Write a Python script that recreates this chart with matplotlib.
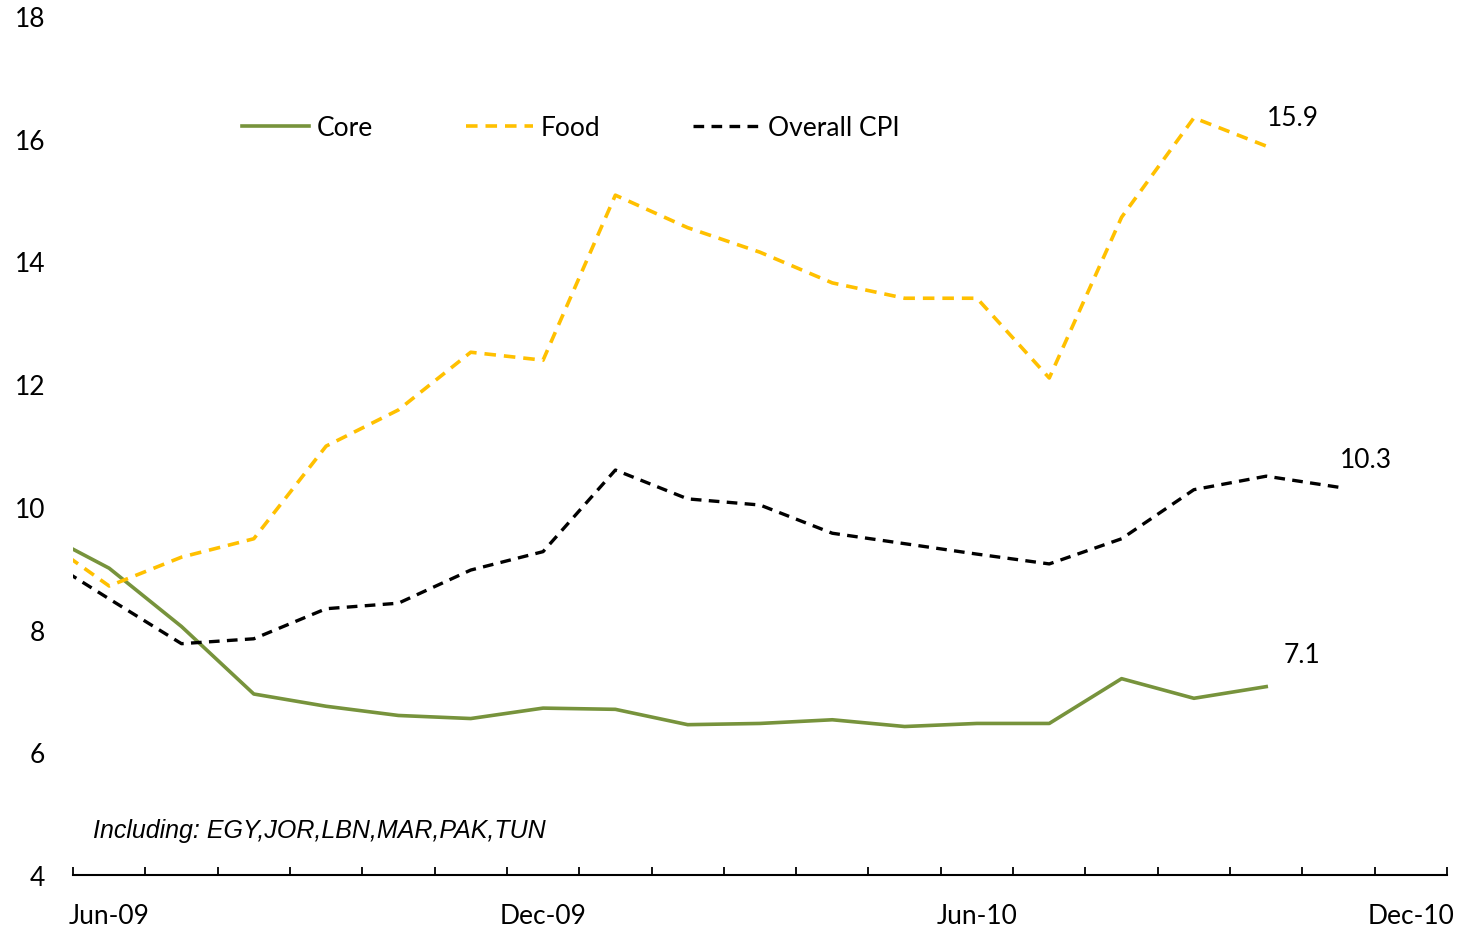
import matplotlib.pyplot as plt

plt.rcParams['font.family'] = ['Lato', 'DejaVu Sans']

# monthly data, May-09 .. Nov-10 (May-09 sits just outside the plotted range)
months = ['May-09', 'Jun-09', 'Jul-09', 'Aug-09', 'Sep-09', 'Oct-09', 'Nov-09',
          'Dec-09', 'Jan-10', 'Feb-10', 'Mar-10', 'Apr-10', 'May-10', 'Jun-10',
          'Jul-10', 'Aug-10', 'Sep-10', 'Oct-10', 'Nov-10', 'Dec-10']
core = [9.62, 9.0, 8.05, 6.95, 6.75, 6.6, 6.55, 6.72, 6.7, 6.45, 6.47, 6.53,
        6.42, 6.47, 6.47, 7.2, 6.88, 7.07]
food = [9.55, 8.71, 9.18, 9.48, 10.99, 11.58, 12.52, 12.39, 15.08, 14.55,
        14.15, 13.65, 13.40, 13.40, 12.10, 14.72, 16.34, 15.88]
cpi = [9.24, 8.50, 7.77, 7.85, 8.34, 8.43, 8.97, 9.27, 10.60, 10.13, 10.03,
       9.57, 9.40, 9.23, 9.07, 9.48, 10.28, 10.50, 10.32]
tick_months = ['Jun-09', 'Dec-09', 'Jun-10', 'Dec-10']

fig = plt.figure(figsize=(14.62, 9.29), dpi=100)
ax = fig.add_axes([73 / 1462, 53 / 929, (1447 - 73) / 1462, (876 - 17) / 929])

l1, = ax.plot(range(len(core)), core, color='#77933C', lw=2.6, label='Core')
l2, = ax.plot(range(len(food)), food, color='#FFC000', lw=2.6,
              dashes=(3.2, 2.2), label='Food')
l3, = ax.plot(range(len(cpi)), cpi, color='black', lw=2.4,
              dashes=(3.2, 2.2), label='Overall CPI')

ax.set_xlim(0.5, len(months) - 0.5)
ax.set_ylim(4, 18)
ax.set_yticks(range(4, 19, 2))

ax.set_xticks([months.index(m) for m in tick_months])
ax.set_xticklabels(tick_months)
ax.set_xticks([i + 0.5 for i in range(len(months))], minor=True)
ax.tick_params(axis='x', which='major', length=0, pad=20, labelsize=19)
ax.tick_params(axis='x', which='minor', direction='in', length=6, width=1.3)
ax.tick_params(axis='y', length=0, pad=20, labelsize=19)

for s in ['left', 'top', 'right']:
    ax.spines[s].set_visible(False)
ax.spines['bottom'].set_linewidth(1.5)

# end-of-series labels
ax.annotate(f'{food[-1]:.1f}', (len(food) - 1, food[-1]), xytext=(27, 29),
            textcoords='offset pixels', ha='center', va='center', fontsize=19)
ax.annotate(f'{cpi[-1]:.1f}', (len(cpi) - 1, cpi[-1]), xytext=(27, 28),
            textcoords='offset pixels', ha='center', va='center', fontsize=19)
ax.annotate(f'{core[-1]:.1f}', (len(core) - 1, core[-1]), xytext=(36, 32),
            textcoords='offset pixels', ha='center', va='center', fontsize=19)

fig.text(93 / 1462, 1 - 831 / 929, 'Including: EGY,JOR,LBN,MAR,PAK,TUN',
         family='Liberation Sans', style='italic', fontsize=18, va='center')

fig.legend(handles=[l1, l2, l3], loc='center left',
           bbox_to_anchor=(242 / 1462, 1 - 129 / 929), ncol=3, frameon=False,
           fontsize=19, handlelength=2.55, handletextpad=0.3, columnspacing=3.5,
           borderpad=0, borderaxespad=0)

plt.savefig('out.png', dpi=100)
